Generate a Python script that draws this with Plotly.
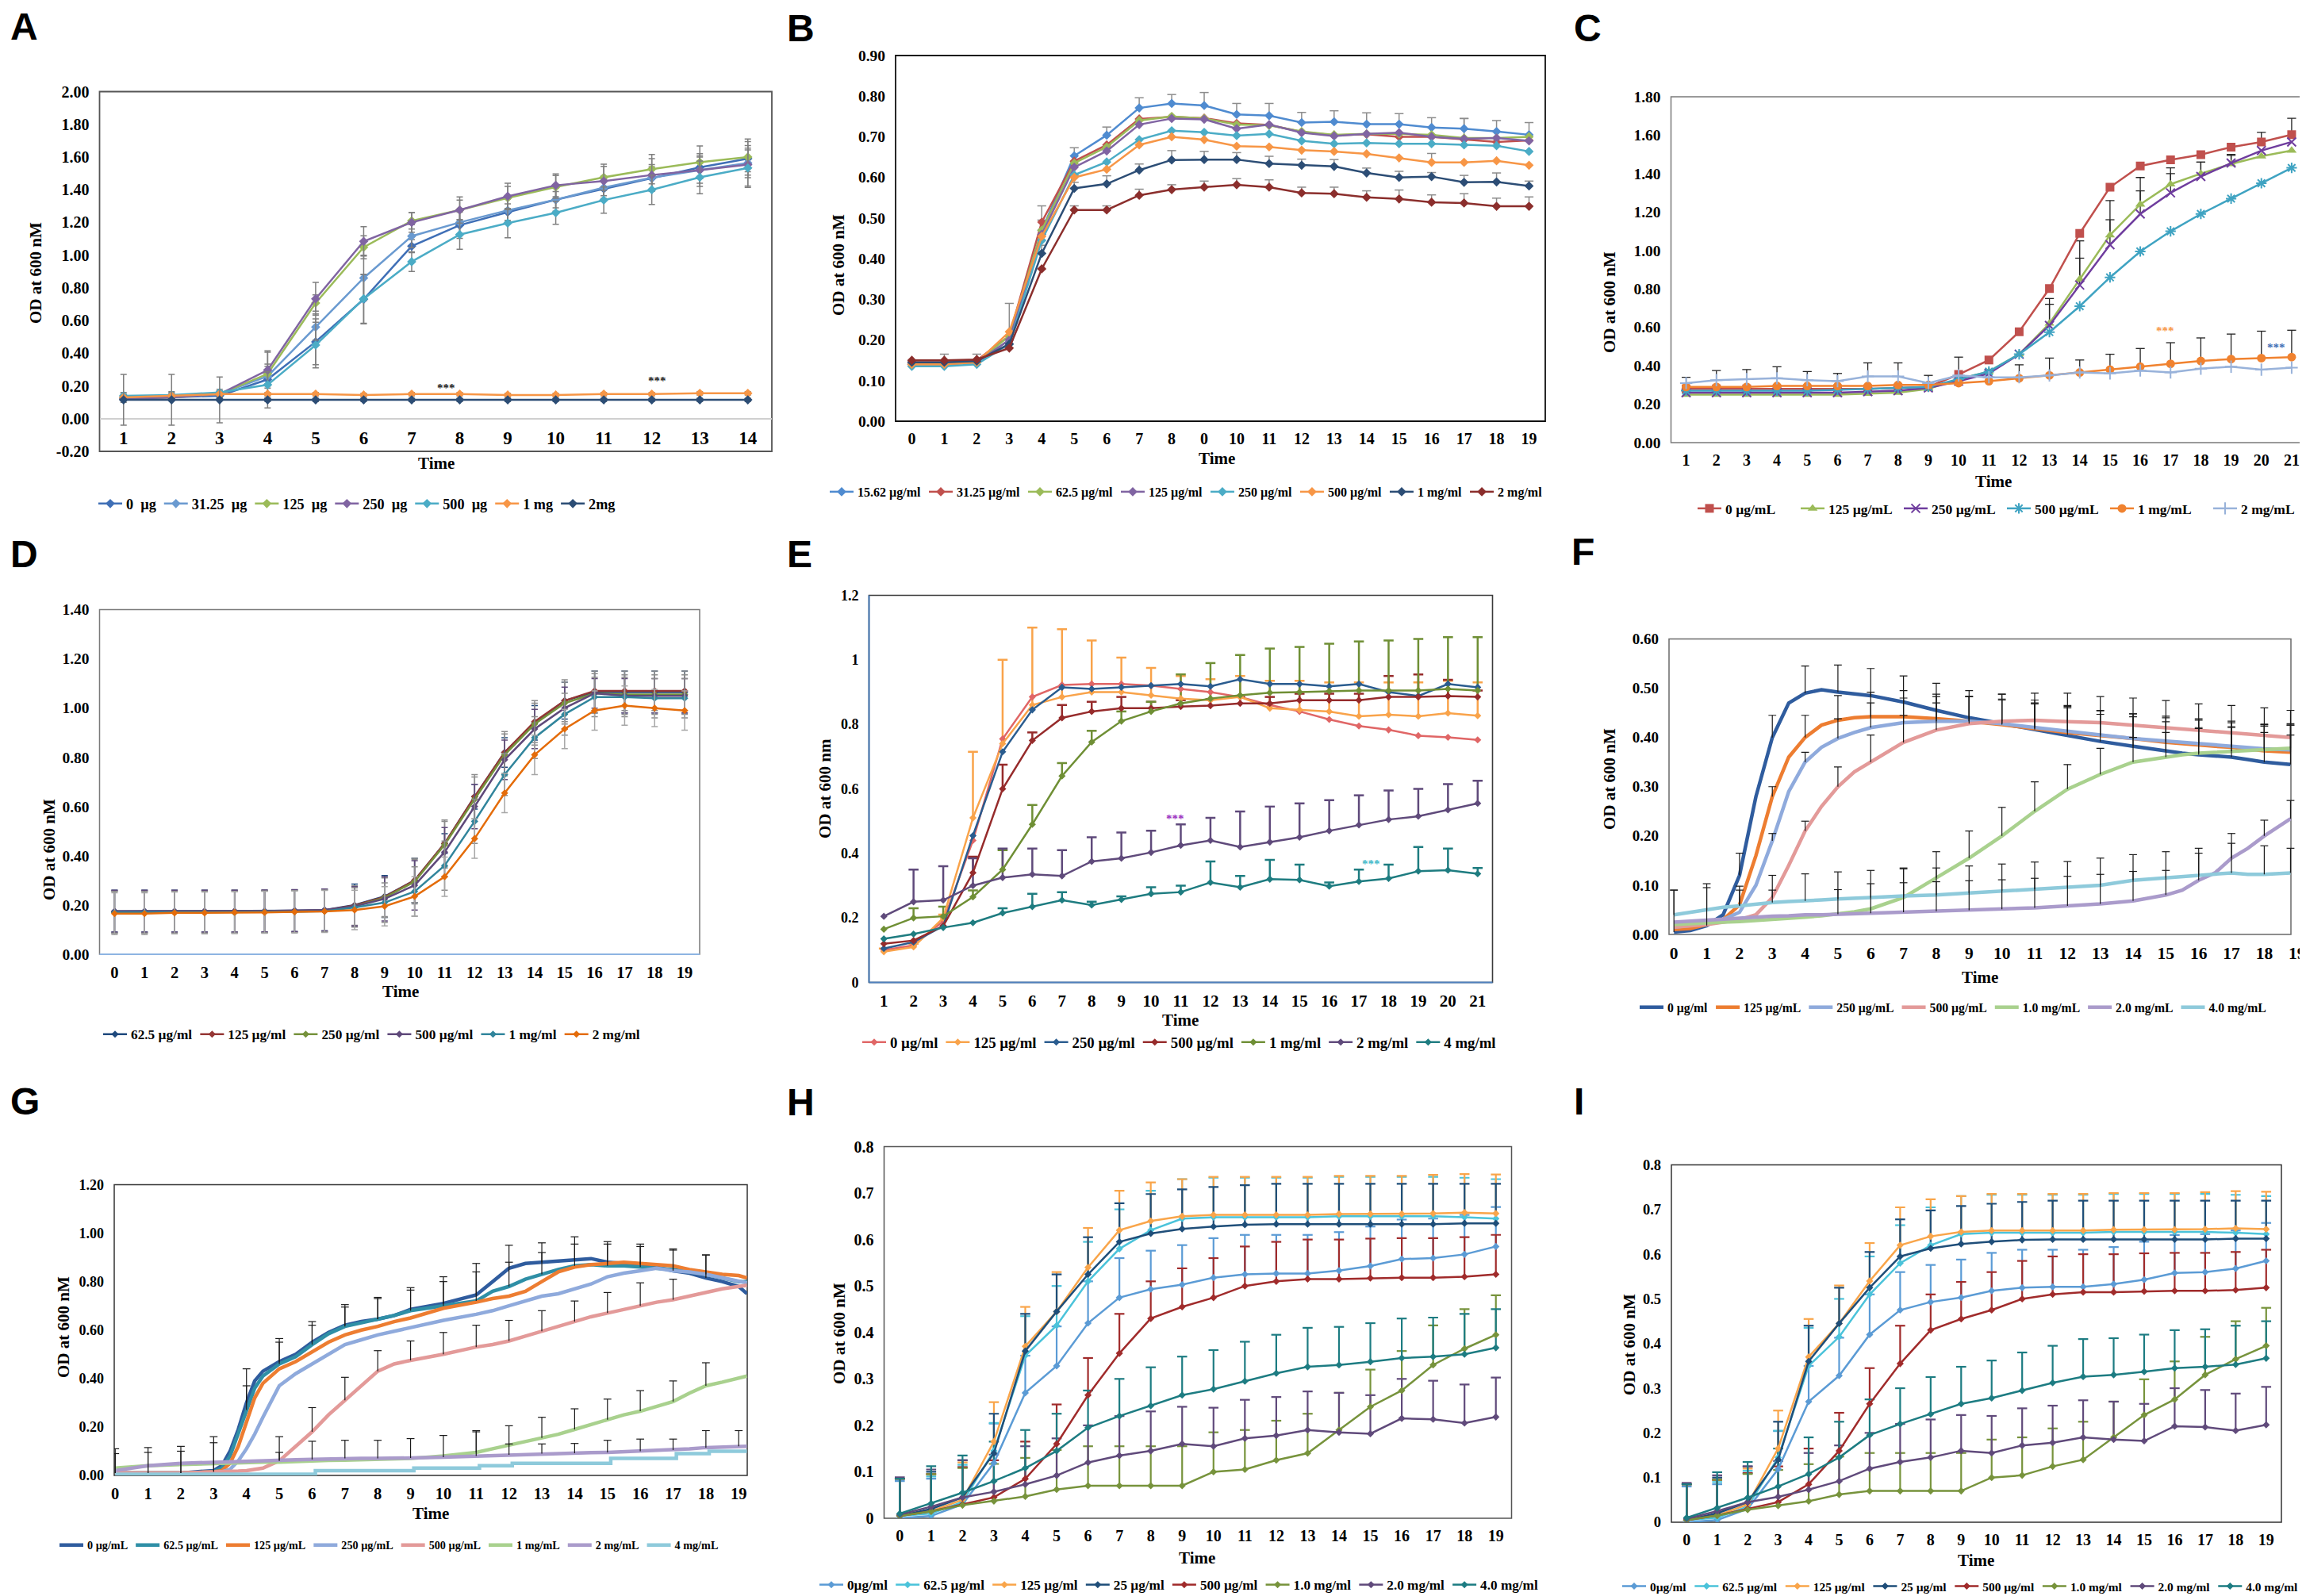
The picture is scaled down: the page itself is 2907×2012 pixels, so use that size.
import plotly.graph_objects as go

W, H = 2907, 2012
SERIF = "Liberation Serif"
SANS = "Liberation Sans"

# ======================= DATA =======================
# ---- Panel A ----
A_T = [1, 2, 3, 4, 5, 6, 7, 8, 9, 10, 11, 12, 13, 14]
A_NAMES = ["0 \u00a0µg", "31.25 \u00a0µg", "125 \u00a0µg", "250 \u00a0µg", "500 \u00a0µg", "1 mg", "2mg"]
A_0UG = [0.12, 0.13, 0.14, 0.24, 0.47, 0.73, 1.055, 1.183, 1.263, 1.339, 1.406, 1.47, 1.537, 1.59]
A_31UG = [0.13, 0.14, 0.15, 0.26, 0.56, 0.86, 1.116, 1.20, 1.274, 1.339, 1.413, 1.474, 1.52, 1.564]
A_125UG = [0.12, 0.13, 0.15, 0.274, 0.707, 1.048, 1.21, 1.276, 1.35, 1.417, 1.476, 1.526, 1.568, 1.60]
A_250UG = [0.12, 0.13, 0.15, 0.297, 0.733, 1.084, 1.20, 1.276, 1.36, 1.427, 1.453, 1.49, 1.52, 1.554]
A_500UG = [0.14, 0.145, 0.16, 0.207, 0.45, 0.733, 0.96, 1.126, 1.196, 1.259, 1.337, 1.40, 1.476, 1.533]
A_1MG = [0.13, 0.14, 0.15, 0.15, 0.15, 0.145, 0.15, 0.15, 0.145, 0.145, 0.15, 0.15, 0.155, 0.155]
A_2MG = [0.115, 0.115, 0.115, 0.115, 0.115, 0.115, 0.115, 0.115, 0.115, 0.115, 0.115, 0.115, 0.115, 0.115]
A_0UG_ERR = [0.02, 0.02, 0.02, 0.175, 0.14, 0.15, 0.04, 0.08, 0.05, 0.05, 0.06, 0.07, 0.07, 0.08]
A_31UG_ERR = [0.02, 0.02, 0.02, 0.06, 0.08, 0.14, 0.07, 0.07, 0.07, 0.07, 0.07, 0.08, 0.08, 0.09]
A_125UG_ERR = [0.01, 0.01, 0.02, 0.06, 0.05, 0.07, 0.05, 0.06, 0.07, 0.07, 0.08, 0.09, 0.10, 0.11]
A_250UG_ERR = [0.01, 0.01, 0.02, 0.11, 0.10, 0.09, 0.06, 0.08, 0.08, 0.07, 0.09, 0.10, 0.10, 0.14]
A_500UG_ERR = [0.02, 0.02, 0.02, 0.08, 0.14, 0.15, 0.06, 0.09, 0.09, 0.07, 0.08, 0.09, 0.10, 0.11]
A_1MG_ERR = [0.01, 0.01, 0.01, 0.01, 0.01, 0.01, 0.01, 0.01, 0.01, 0.01, 0.01, 0.01, 0.01, 0.01]
A_2MG_ERR = [0.155, 0.155, 0.14, 0.01, 0.01, 0.01, 0.01, 0.01, 0.01, 0.01, 0.01, 0.01, 0.01, 0.01]
A_YT = [-0.2, 0.0, 0.2, 0.4, 0.6, 0.8, 1.0, 1.2, 1.4, 1.6, 1.8, 2.0]
A_YLABELS = ["-0.20", "0.00", "0.20", "0.40", "0.60", "0.80", "1.00", "1.20", "1.40", "1.60", "1.80", "2.00"]

# ---- Panel B ----
B_T = list(range(20))
B_XLABELS = ["0", "1", "2", "3", "4", "5", "6", "7", "8", "0", "10", "11", "12", "13", "14", "15", "16", "17", "18", "19"]
B_NAMES = ["15.62 µg/ml", "31.25 µg/ml", "62.5 µg/ml", "125 µg/ml", "250 µg/ml", "500 µg/ml", "1 mg/ml", "2 mg/ml"]
B_15 = [0.141, 0.14, 0.145, 0.20, 0.47, 0.653, 0.704, 0.771, 0.782, 0.777, 0.755, 0.752, 0.735, 0.737, 0.731, 0.731, 0.723, 0.72, 0.713, 0.705]
B_31 = [0.145, 0.145, 0.15, 0.21, 0.49, 0.64, 0.68, 0.744, 0.749, 0.746, 0.733, 0.729, 0.712, 0.704, 0.706, 0.70, 0.70, 0.693, 0.687, 0.691]
B_62 = [0.14, 0.14, 0.145, 0.21, 0.47, 0.635, 0.675, 0.74, 0.75, 0.745, 0.73, 0.728, 0.713, 0.705, 0.707, 0.707, 0.705, 0.697, 0.697, 0.70]
B_125 = [0.14, 0.14, 0.145, 0.20, 0.46, 0.625, 0.665, 0.73, 0.745, 0.743, 0.72, 0.73, 0.71, 0.702, 0.707, 0.71, 0.70, 0.695, 0.697, 0.69]
B_250 = [0.135, 0.135, 0.14, 0.19, 0.445, 0.606, 0.638, 0.693, 0.715, 0.711, 0.703, 0.707, 0.69, 0.683, 0.685, 0.683, 0.683, 0.68, 0.678, 0.664]
B_500 = [0.14, 0.14, 0.145, 0.22, 0.455, 0.60, 0.62, 0.68, 0.70, 0.693, 0.677, 0.675, 0.667, 0.664, 0.658, 0.648, 0.637, 0.637, 0.641, 0.63]
B_1MG = [0.145, 0.145, 0.148, 0.19, 0.413, 0.573, 0.584, 0.618, 0.643, 0.644, 0.644, 0.634, 0.63, 0.627, 0.611, 0.60, 0.602, 0.588, 0.589, 0.579]
B_2MG = [0.15, 0.15, 0.152, 0.18, 0.375, 0.52, 0.52, 0.556, 0.57, 0.576, 0.582, 0.576, 0.562, 0.56, 0.551, 0.547, 0.539, 0.537, 0.529, 0.529]
B_15_EP = [0.005, 0.025, 0.02, 0.09, 0.06, 0.02, 0.02, 0.025, 0.022, 0.032, 0.027, 0.03, 0.025, 0.027, 0.028, 0.026, 0.024, 0.025, 0.027, 0.03]
B_250_EP = [None, None, None, None, 0.05, None, None, None, None, None, None, None, None, None, None, None, None, 0.065, None, None]
B_500_EP = [None, None, None, None, None, None, None, None, None, None, None, None, None, None, None, None, 0.022, None, None, None]
B_1MG_EP = [None, None, None, None, 0.02, 0.015, 0.02, 0.015, 0.023, 0.02, 0.017, 0.018, 0.015, 0.017, 0.012, 0.015, 0.01, 0.017, 0.022, 0.012]
B_2MG_EP = [None, None, None, None, None, 0.01, 0.01, 0.015, 0.012, 0.015, 0.015, 0.018, 0.014, 0.016, 0.016, 0.022, 0.018, 0.023, 0.02, 0.023]
B_YT = [0.0, 0.1, 0.2, 0.3, 0.4, 0.5, 0.6, 0.7, 0.8, 0.9]

# ---- Panel C ----
C_T = list(range(1, 22))
C_NAMES = ["0 µg/mL", "125 µg/mL", "250 µg/mL", "500 µg/mL", "1 mg/mL", "2 mg/mL"]
C_0 = [0.28, 0.28, 0.28, 0.28, 0.28, 0.28, 0.28, 0.285, 0.29, 0.355, 0.43, 0.577, 0.802, 1.089, 1.329, 1.44, 1.472, 1.499, 1.538, 1.565, 1.603]
C_125 = [0.25, 0.25, 0.25, 0.25, 0.25, 0.25, 0.255, 0.26, 0.28, 0.33, 0.37, 0.46, 0.62, 0.85, 1.08, 1.24, 1.345, 1.40, 1.45, 1.49, 1.52]
C_250 = [0.26, 0.26, 0.26, 0.26, 0.26, 0.26, 0.265, 0.27, 0.285, 0.32, 0.36, 0.46, 0.61, 0.82, 1.03, 1.19, 1.30, 1.385, 1.455, 1.52, 1.565]
C_500 = [0.27, 0.27, 0.27, 0.27, 0.27, 0.275, 0.28, 0.285, 0.29, 0.33, 0.37, 0.46, 0.575, 0.71, 0.86, 0.995, 1.10, 1.19, 1.27, 1.35, 1.43]
C_1MG = [0.29, 0.29, 0.29, 0.295, 0.295, 0.295, 0.295, 0.30, 0.30, 0.31, 0.32, 0.335, 0.35, 0.365, 0.38, 0.395, 0.41, 0.425, 0.435, 0.44, 0.445]
C_2MG = [0.31, 0.325, 0.33, 0.335, 0.325, 0.32, 0.345, 0.345, 0.31, 0.35, 0.34, 0.34, 0.35, 0.365, 0.36, 0.375, 0.365, 0.385, 0.395, 0.38, 0.39]
C_0_EP = [None, None, None, None, None, None, None, None, None, 0.09, None, None, None, None, None, None, None, None, None, 0.05, 0.085]
C_125_EP = [None, None, None, None, None, None, None, None, None, None, None, None, 0.1, 0.2, 0.18, 0.14, 0.085, 0.06, 0.05, None, None]
C_250_EP = [None, None, None, None, None, None, None, None, None, None, None, None, 0.14, 0.14, 0.13, 0.12, 0.10, 0.075, 0.04, None, None]
C_1MG_EP = [None, None, None, None, None, None, None, None, None, None, None, 0.07, 0.09, 0.065, 0.08, 0.095, 0.11, 0.12, 0.13, 0.14, 0.14]
C_2MG_EP = [0.03, 0.05, 0.05, 0.06, 0.045, 0.04, 0.07, 0.07, 0.04, None, None, None, None, None, None, None, None, None, None, None, None]
C_YT = [0.0, 0.2, 0.4, 0.6, 0.8, 1.0, 1.2, 1.4, 1.6, 1.8]

# ---- Panel D ----
D_T = list(range(20))
D_NAMES = ["62.5 µg/ml", "125 µg/ml", "250 µg/ml", "500 µg/ml", "1 mg/ml", "2 mg/ml"]
D_62 = [0.175, 0.175, 0.175, 0.175, 0.175, 0.175, 0.177, 0.18, 0.20, 0.235, 0.30, 0.45, 0.64, 0.82, 0.94, 1.03, 1.065, 1.065, 1.065, 1.065]
D_125 = [0.172, 0.172, 0.173, 0.174, 0.175, 0.175, 0.176, 0.178, 0.198, 0.233, 0.30, 0.45, 0.64, 0.82, 0.945, 1.03, 1.07, 1.07, 1.07, 1.07]
D_250 = [0.17, 0.17, 0.17, 0.17, 0.17, 0.172, 0.174, 0.176, 0.195, 0.23, 0.295, 0.445, 0.63, 0.81, 0.935, 1.02, 1.06, 1.055, 1.055, 1.055]
D_500 = [0.175, 0.175, 0.175, 0.175, 0.175, 0.176, 0.178, 0.18, 0.195, 0.225, 0.28, 0.415, 0.60, 0.79, 0.915, 1.00, 1.06, 1.05, 1.05, 1.05]
D_1MG = [0.17, 0.17, 0.17, 0.17, 0.17, 0.172, 0.173, 0.175, 0.19, 0.21, 0.255, 0.36, 0.54, 0.73, 0.88, 0.975, 1.045, 1.045, 1.04, 1.04]
D_2MG = [0.165, 0.165, 0.168, 0.168, 0.17, 0.17, 0.172, 0.174, 0.18, 0.195, 0.235, 0.315, 0.47, 0.655, 0.81, 0.915, 0.99, 1.01, 1.00, 0.99]
D_62_ERR = [0.085, 0.085, 0.085, 0.085, 0.085, 0.085, 0.085, 0.085, 0.085, 0.085, 0.09, 0.04, 0.05, 0.06, 0.07, 0.075, 0.085, 0.085, 0.085, 0.085]
D_125_ERR = [0.085, 0.085, 0.085, 0.085, 0.085, 0.085, 0.085, 0.085, 0.08, 0.08, 0.09, 0.095, 0.09, 0.085, 0.085, 0.085, 0.08, 0.08, 0.08, 0.08]
D_250_ERR = [0.085, 0.085, 0.085, 0.085, 0.085, 0.085, 0.085, 0.085, 0.08, 0.08, 0.09, 0.095, 0.09, 0.085, 0.085, 0.085, 0.08, 0.08, 0.08, 0.08]
D_500_ERR = [0.085, 0.085, 0.085, 0.085, 0.085, 0.085, 0.085, 0.085, 0.08, 0.09, 0.1, 0.1, 0.09, 0.08, 0.08, 0.085, 0.06, 0.07, 0.07, 0.07]
D_1MG_ERR = [0.085, 0.085, 0.085, 0.085, 0.085, 0.085, 0.085, 0.085, 0.08, 0.08, 0.1, 0.1, 0.09, 0.085, 0.085, 0.085, 0.08, 0.08, 0.08, 0.08]
D_2MG_ERR = [0.085, 0.085, 0.085, 0.085, 0.085, 0.085, 0.085, 0.085, 0.08, 0.08, 0.08, 0.08, 0.08, 0.08, 0.08, 0.08, 0.08, 0.08, 0.075, 0.08]
D_YT = [0.0, 0.2, 0.4, 0.6, 0.8, 1.0, 1.2, 1.4]

# ---- Panel E ----
E_T = list(range(1, 22))
E_NAMES = ["0 µg/ml", "125 µg/ml", "250 µg/ml", "500 µg/ml", "1 mg/ml", "2 mg/ml", "4 mg/ml"]
E_0 = [0.10, 0.115, 0.19, 0.44, 0.755, 0.885, 0.922, 0.925, 0.925, 0.92, 0.91, 0.90, 0.885, 0.86, 0.84, 0.815, 0.795, 0.783, 0.765, 0.76, 0.752]
E_125 = [0.095, 0.11, 0.20, 0.51, 0.74, 0.86, 0.885, 0.90, 0.90, 0.89, 0.88, 0.875, 0.885, 0.85, 0.845, 0.84, 0.825, 0.83, 0.825, 0.835, 0.827]
E_250 = [0.105, 0.125, 0.175, 0.455, 0.715, 0.845, 0.915, 0.91, 0.915, 0.92, 0.925, 0.918, 0.94, 0.925, 0.925, 0.918, 0.925, 0.90, 0.888, 0.925, 0.915]
E_500 = [0.12, 0.13, 0.175, 0.34, 0.60, 0.75, 0.82, 0.84, 0.85, 0.85, 0.855, 0.858, 0.865, 0.865, 0.875, 0.875, 0.875, 0.885, 0.885, 0.888, 0.885]
E_1MG = [0.165, 0.20, 0.205, 0.265, 0.35, 0.49, 0.64, 0.745, 0.81, 0.84, 0.865, 0.88, 0.89, 0.898, 0.90, 0.903, 0.905, 0.905, 0.905, 0.91, 0.905]
E_2MG = [0.205, 0.25, 0.255, 0.30, 0.325, 0.335, 0.33, 0.375, 0.385, 0.403, 0.425, 0.44, 0.42, 0.435, 0.45, 0.47, 0.488, 0.505, 0.515, 0.535, 0.555]
E_4MG = [0.135, 0.15, 0.17, 0.185, 0.215, 0.235, 0.255, 0.24, 0.257, 0.275, 0.28, 0.31, 0.295, 0.32, 0.318, 0.298, 0.313, 0.322, 0.345, 0.348, 0.337]
E_125_EP = [0.01, 0.01, 0.01, 0.205, 0.26, 0.24, 0.21, 0.16, 0.107, 0.085, 0.07, 0.065, 0.065, 0.085, 0.09, 0.09, 0.105, 0.10, 0.105, 0.10, 0.103]
E_500_EP = [None, None, None, 0.05, 0.075, 0.025, 0.04, 0.03, 0.035, 0.02, 0.02, 0.02, 0.02, 0.02, 0.02, 0.02, 0.02, 0.065, 0.07, 0.05, 0.02]
E_1MG_EP = [None, 0.03, 0.03, 0.02, 0.06, 0.06, 0.04, 0.035, 0.03, 0.03, 0.09, 0.11, 0.125, 0.137, 0.14, 0.147, 0.152, 0.155, 0.16, 0.16, 0.165]
E_2MG_EP = [None, 0.10, 0.105, 0.085, 0.09, 0.08, 0.08, 0.075, 0.08, 0.067, 0.065, 0.07, 0.11, 0.11, 0.105, 0.095, 0.092, 0.09, 0.085, 0.08, 0.07]
E_4MG_EP = [None, None, None, None, 0.015, 0.04, 0.025, 0.01, 0.01, 0.02, 0.02, 0.065, 0.035, 0.06, 0.047, 0.012, 0.037, 0.043, 0.075, 0.067, 0.018]
E_YT = [0.0, 0.2, 0.4, 0.6, 0.8, 1.0, 1.2]
E_YLABELS = ["0", "0.2", "0.4", "0.6", "0.8", "1", "1.2"]

# ---- Panel F ----
F_T = [0, 0.5, 1, 1.5, 2, 2.5, 3, 3.5, 4, 4.5, 5, 5.5, 6, 7, 8, 9, 10, 11, 12, 13, 14, 15, 15.5, 16, 16.5, 17, 17.5, 18, 18.8]
F_NAMES = ["0 µg/ml", "125 µg/mL", "250 µg/mL", "500 µg/mL", "1.0 mg/mL", "2.0 mg/mL", "4.0 mg/mL"]
F_0 = [0.005, 0.008, 0.018, 0.04, 0.12, 0.28, 0.40, 0.47, 0.49, 0.497, 0.492, 0.488, 0.485, 0.472, 0.455, 0.44, 0.428, 0.416, 0.405, 0.392, 0.382, 0.372, 0.368, 0.365, 0.362, 0.36, 0.355, 0.35, 0.345]
F_125 = [0.01, 0.012, 0.02, 0.03, 0.06, 0.16, 0.28, 0.36, 0.40, 0.425, 0.435, 0.44, 0.442, 0.442, 0.438, 0.433, 0.426, 0.418, 0.41, 0.404, 0.398, 0.39, 0.387, 0.385, 0.382, 0.38, 0.376, 0.373, 0.37]
F_250 = [0.015, 0.018, 0.025, 0.03, 0.045, 0.10, 0.19, 0.29, 0.35, 0.38, 0.398, 0.41, 0.42, 0.43, 0.433, 0.433, 0.428, 0.42, 0.413, 0.405, 0.398, 0.393, 0.39, 0.388, 0.385, 0.383, 0.38, 0.377, 0.375]
F_500 = [0.015, 0.017, 0.02, 0.025, 0.03, 0.04, 0.075, 0.14, 0.21, 0.26, 0.30, 0.33, 0.35, 0.39, 0.415, 0.428, 0.433, 0.435, 0.432, 0.43, 0.425, 0.42, 0.418, 0.415, 0.413, 0.41, 0.407, 0.405, 0.40]
F_1MG = [0.02, 0.022, 0.024, 0.025, 0.026, 0.028, 0.03, 0.032, 0.035, 0.038, 0.042, 0.046, 0.052, 0.075, 0.115, 0.155, 0.20, 0.25, 0.295, 0.325, 0.35, 0.36, 0.365, 0.368, 0.37, 0.372, 0.374, 0.376, 0.378]
F_2MG = [0.025, 0.027, 0.03, 0.032, 0.033, 0.035, 0.037, 0.038, 0.04, 0.04, 0.041, 0.042, 0.043, 0.045, 0.047, 0.049, 0.051, 0.054, 0.058, 0.062, 0.068, 0.08, 0.09, 0.11, 0.125, 0.155, 0.175, 0.20, 0.235]
F_4MG = [0.04, 0.045, 0.05, 0.055, 0.058, 0.062, 0.065, 0.067, 0.068, 0.07, 0.072, 0.073, 0.075, 0.078, 0.08, 0.084, 0.088, 0.092, 0.095, 0.10, 0.11, 0.115, 0.117, 0.12, 0.122, 0.125, 0.122, 0.122, 0.125]
F_ET = [0, 1, 2, 3, 4, 5, 6, 7, 8, 9, 10, 11, 12, 13, 14, 15, 16, 17, 18, 18.8]
F_0_EP = [0.085, 0.085, 0.045, 0.045, 0.055, 0.055, 0.055, 0.053, 0.055, 0.055, 0.06, 0.06, 0.06, 0.055, 0.06, 0.06, 0.055, 0.06, 0.06, 0.06]
F_125_EP = [None, None, 0.03, 0.02, 0.045, 0.05, 0.05, 0.053, 0.05, 0.05, 0.05, 0.05, 0.05, 0.05, 0.05, 0.05, 0.05, 0.05, 0.05, 0.055]
F_250_EP = [None, None, None, 0.015, 0.02, 0.04, 0.05, 0.05, 0.05, 0.05, 0.05, 0.05, 0.05, 0.05, 0.05, 0.05, 0.05, 0.05, 0.05, 0.05]
F_500_EP = [None, None, None, 0.015, 0.02, 0.04, 0.055, 0.055, 0.055, 0.055, 0.055, 0.055, 0.058, 0.053, 0.055, 0.055, 0.053, 0.055, 0.055, 0.055]
F_1MG_EP = [None, None, None, None, None, None, None, 0.06, 0.053, 0.055, 0.058, 0.06, 0.05, 0.053, 0.05, 0.05, 0.05, 0.05, 0.05, 0.05]
F_2MG_EP = [None, None, None, None, None, 0.05, 0.06, 0.06, 0.06, 0.06, 0.06, 0.06, 0.06, 0.06, 0.06, 0.05, 0.055, 0.05, 0.032, 0.037]
F_4MG_EP = [0.05, 0.045, 0.04, 0.055, 0.055, 0.055, 0.055, 0.055, 0.055, 0.055, 0.055, 0.055, 0.053, 0.055, 0.052, 0.053, 0.055, 0.06, 0.058, 0.05]
F_XT = list(range(20))
F_YT = [0.0, 0.1, 0.2, 0.3, 0.4, 0.5, 0.6]

# ---- Panel G ----
G_T = [0, 1, 2, 3, 3.25, 3.5, 3.75, 4, 4.25, 4.5, 5, 5.5, 6, 6.5, 7, 7.5, 8, 8.5, 9, 10, 11, 11.5, 12, 12.5, 13, 13.5, 14, 14.5, 15, 15.5, 16, 16.5, 17, 17.5, 18, 18.5, 19, 19.25]
G_NAMES = ["0 µg/mL", "62.5 µg/mL", "125 µg/mL", "250 µg/mL", "500 µg/mL", "1 mg/mL", "2 mg/mL", "4 mg/mL"]
G_0 = [0.01, 0.01, 0.01, 0.02, 0.04, 0.10, 0.19, 0.30, 0.39, 0.43, 0.47, 0.50, 0.55, 0.59, 0.62, 0.635, 0.645, 0.66, 0.685, 0.71, 0.745, 0.80, 0.855, 0.875, 0.88, 0.885, 0.89, 0.895, 0.88, 0.875, 0.87, 0.86, 0.845, 0.835, 0.815, 0.80, 0.78, 0.75]
G_62 = [0.01, 0.01, 0.01, 0.015, 0.03, 0.08, 0.17, 0.27, 0.36, 0.41, 0.46, 0.49, 0.54, 0.585, 0.615, 0.63, 0.645, 0.66, 0.68, 0.70, 0.72, 0.76, 0.78, 0.81, 0.83, 0.85, 0.865, 0.87, 0.865, 0.865, 0.86, 0.855, 0.85, 0.84, 0.83, 0.815, 0.80, 0.80]
G_125 = [0.01, 0.01, 0.01, 0.015, 0.02, 0.05, 0.12, 0.22, 0.32, 0.38, 0.44, 0.47, 0.51, 0.55, 0.58, 0.60, 0.615, 0.635, 0.65, 0.69, 0.715, 0.73, 0.74, 0.76, 0.80, 0.84, 0.86, 0.87, 0.875, 0.88, 0.875, 0.87, 0.865, 0.85, 0.84, 0.83, 0.825, 0.815]
G_250 = [0.01, 0.01, 0.01, 0.01, 0.015, 0.025, 0.06, 0.11, 0.17, 0.24, 0.37, 0.42, 0.46, 0.50, 0.54, 0.56, 0.58, 0.595, 0.61, 0.64, 0.665, 0.68, 0.70, 0.72, 0.74, 0.75, 0.77, 0.79, 0.82, 0.835, 0.845, 0.855, 0.845, 0.84, 0.83, 0.815, 0.80, 0.795]
G_500 = [0.01, 0.01, 0.01, 0.015, 0.015, 0.015, 0.018, 0.02, 0.025, 0.03, 0.06, 0.12, 0.18, 0.25, 0.31, 0.37, 0.43, 0.46, 0.475, 0.50, 0.53, 0.54, 0.555, 0.575, 0.595, 0.615, 0.635, 0.655, 0.67, 0.685, 0.70, 0.715, 0.725, 0.74, 0.755, 0.77, 0.78, 0.785]
G_1MG = [0.03, 0.04, 0.045, 0.05, 0.05, 0.052, 0.053, 0.055, 0.055, 0.055, 0.055, 0.058, 0.06, 0.062, 0.063, 0.065, 0.066, 0.068, 0.07, 0.08, 0.095, 0.11, 0.125, 0.14, 0.155, 0.17, 0.19, 0.21, 0.23, 0.25, 0.265, 0.285, 0.305, 0.34, 0.37, 0.385, 0.40, 0.41]
G_2MG = [0.02, 0.04, 0.05, 0.055, 0.056, 0.057, 0.058, 0.06, 0.06, 0.062, 0.065, 0.065, 0.066, 0.068, 0.07, 0.07, 0.07, 0.07, 0.072, 0.075, 0.08, 0.082, 0.085, 0.087, 0.09, 0.09, 0.092, 0.094, 0.095, 0.098, 0.10, 0.103, 0.105, 0.11, 0.115, 0.118, 0.12, 0.12]
G_4MG_T = [0, 6.1, 9.1, 11.1, 12.1, 15.1, 17.1, 18.1, 19.25]
G_4MG = [0.005, 0.02, 0.03, 0.04, 0.05, 0.07, 0.09, 0.10, 0.10]
G_ET = list(range(20))
G_0_EP = [0.10, 0.105, 0.11, 0.14, 0.14, 0.095, 0.085, 0.085, 0.09, 0.09, 0.11, 0.13, 0.095, 0.08, 0.095, 0.085, 0.085, 0.09, 0.095, None]
G_62_EP = [0.08, 0.085, 0.09, 0.12, 0.10, 0.09, 0.08, 0.08, 0.085, 0.085, 0.1, 0.12, 0.1, 0.09, 0.09, 0.09, 0.085, 0.08, 0.08, None]
G_500_EP = [None, None, None, None, None, 0.10, 0.10, 0.095, 0.085, 0.08, 0.09, 0.09, 0.085, 0.085, 0.085, 0.085, 0.095, 0.085, None, None]
G_1MG_EP = [None, None, None, None, None, None, None, None, None, None, None, 0.09, 0.08, 0.085, 0.085, 0.085, 0.085, 0.085, 0.095, None]
G_2MG_EP = [None, None, None, None, None, 0.03, 0.075, 0.075, 0.075, 0.08, 0.09, 0.10, 0.045, 0.04, 0.04, 0.05, 0.05, 0.045, 0.07, 0.065]
G_XT = list(range(20))
G_YT = [0.0, 0.2, 0.4, 0.6, 0.8, 1.0, 1.2]

# ---- Panels H and I (same data) ----
H_T = list(range(20))
H_NAMES = ["0µg/ml", "62.5 µg/ml", "125 µg/ml", "25 µg/ml", "500 µg/ml", "1.0 mg/ml", "2.0 mg/ml", "4.0 mg/ml"]
H_0 = [0.0, 0.005, 0.03, 0.119, 0.27, 0.328, 0.42, 0.475, 0.493, 0.503, 0.518, 0.525, 0.527, 0.527, 0.533, 0.543, 0.558, 0.56, 0.568, 0.585]
H_62 = [0.005, 0.01, 0.035, 0.145, 0.35, 0.415, 0.51, 0.58, 0.62, 0.645, 0.648, 0.648, 0.648, 0.648, 0.65, 0.65, 0.65, 0.65, 0.648, 0.645]
H_125 = [0.005, 0.015, 0.04, 0.165, 0.37, 0.445, 0.54, 0.62, 0.64, 0.65, 0.653, 0.653, 0.653, 0.653, 0.655, 0.655, 0.655, 0.656, 0.658, 0.656]
H_25 = [0.005, 0.02, 0.045, 0.14, 0.36, 0.445, 0.525, 0.595, 0.613, 0.623, 0.628, 0.632, 0.633, 0.633, 0.633, 0.633, 0.633, 0.633, 0.635, 0.635]
H_500 = [0.005, 0.015, 0.03, 0.045, 0.085, 0.16, 0.265, 0.355, 0.43, 0.455, 0.475, 0.50, 0.51, 0.515, 0.515, 0.517, 0.518, 0.518, 0.52, 0.525]
H_1MG = [0.005, 0.015, 0.028, 0.037, 0.047, 0.062, 0.07, 0.07, 0.07, 0.07, 0.10, 0.105, 0.125, 0.14, 0.19, 0.24, 0.275, 0.33, 0.365, 0.395]
H_2MG = [0.008, 0.025, 0.045, 0.057, 0.073, 0.092, 0.12, 0.135, 0.145, 0.16, 0.155, 0.172, 0.178, 0.19, 0.185, 0.182, 0.215, 0.213, 0.205, 0.218]
H_4MG = [0.01, 0.032, 0.055, 0.08, 0.108, 0.145, 0.195, 0.22, 0.242, 0.265, 0.278, 0.295, 0.312, 0.326, 0.33, 0.337, 0.345, 0.348, 0.353, 0.367]
H_0_EP = [0.08, 0.08, 0.08, 0.085, 0.08, 0.085, 0.09, 0.085, 0.083, 0.085, 0.085, 0.085, 0.083, 0.083, 0.083, 0.085, 0.085, 0.085, 0.085, 0.085]
H_62_EP = [0.08, 0.08, 0.08, 0.06, 0.085, 0.085, 0.085, 0.085, 0.085, 0.085, 0.085, 0.085, 0.085, 0.085, 0.085, 0.085, 0.085, 0.085, 0.085, 0.085]
H_125_EP = [0.08, 0.08, 0.08, 0.085, 0.085, 0.085, 0.085, 0.085, 0.083, 0.08, 0.082, 0.082, 0.082, 0.082, 0.082, 0.082, 0.082, 0.083, 0.083, 0.084]
H_25_EP = [0.08, 0.08, 0.08, 0.085, 0.08, 0.08, 0.08, 0.083, 0.085, 0.085, 0.085, 0.085, 0.087, 0.087, 0.087, 0.087, 0.087, 0.087, 0.085, 0.085]
H_500_EP = [0.08, 0.08, 0.08, 0.08, 0.08, 0.085, 0.08, 0.085, 0.08, 0.083, 0.085, 0.085, 0.085, 0.085, 0.085, 0.085, 0.085, 0.085, 0.085, 0.085]
H_1MG_EP = [0.08, 0.08, 0.08, 0.08, 0.083, 0.085, 0.085, 0.085, 0.085, 0.085, 0.085, 0.085, 0.085, 0.085, 0.08, 0.08, 0.085, 0.085, 0.085, 0.085]
H_2MG_EP = [0.08, 0.08, 0.08, 0.08, 0.082, 0.08, 0.08, 0.085, 0.085, 0.08, 0.083, 0.083, 0.083, 0.083, 0.085, 0.083, 0.085, 0.083, 0.083, 0.085]
H_4MG_EP = [0.075, 0.08, 0.08, 0.085, 0.082, 0.08, 0.08, 0.08, 0.083, 0.083, 0.084, 0.085, 0.083, 0.084, 0.082, 0.083, 0.085, 0.084, 0.087, 0.083]
H_YT = [0.0, 0.1, 0.2, 0.3, 0.4, 0.5, 0.6, 0.7, 0.8]
H_YLABELS = ["0", "0.1", "0.2", "0.3", "0.4", "0.5", "0.6", "0.7", "0.8"]

# ======================= LAYOUT (pixels) =======================
BOX = {1: (117.5, 107.5, 965, 561), 2: (1121, 62, 1940, 523), 3: (2098.5, 114, 2900, 550),
       4: (117.5, 760.5, 874, 1195), 5: (1087.5, 742.5, 1873.5, 1230.5), 6: (2096, 797.5, 2896, 1170),
       7: (136, 1485.5, 934, 1852), 8: (1106.5, 1437.5, 1897.5, 1906), 9: (2099, 1460.5, 2868, 1911)}
YTITLE = {1: (37, 336), 2: (1049, 326), 3: (2021, 373), 4: (54, 1063), 5: (1032, 986), 6: (2021, 974),
          7: (72, 1665), 8: (1050, 1673), 9: (2046, 1687)}
TIME = {1: (542, 576), 2: (1526, 570), 3: (2505, 599), 4: (497, 1242), 5: (1480, 1278), 6: (2488, 1224),
        7: (535, 1900), 8: (1501, 1956), 9: (2483, 1959)}
LETTER = {1: (3, 26, "A"), 2: (982, 28, "B"), 3: (1974, 28, "C"), 4: (3, 690, "D"), 5: (982, 690, "E"),
          6: (1971, 688, "F"), 7: (3, 1380, "G"), 8: (982, 1381, "H"), 9: (1974, 1380, "I")}
# legend: (x of first symbol centre, or right edge for panel C, y centre)
LEG = {1: (133, 627), 2: (1055, 612), 3: (2907, 633), 4: (139, 1296), 5: (1096, 1306), 6: (2076, 1262),
       7: (84, 1940), 8: (1042, 1990), 9: (2054, 1992)}
LEGFONT = {1: 18.2, 2: 16, 3: 17.5, 4: 17.3, 5: 18.8, 6: 15.7, 7: 14.2, 8: 17.2, 9: 15.4}
LEGENTRY = {3: 85}
XFONT = {1: 23, 2: 20, 3: 20, 4: 20.5, 5: 21, 6: 21.5, 7: 20.5, 8: 20, 9: 20}
YFONT = {1: 20, 2: 19.5, 3: 19.5, 4: 19.5, 5: 18, 6: 19, 7: 18, 8: 20, 9: 18.5}

fig = go.Figure()


def sfx(k):
    return "" if k == 1 else str(k)


def series(k, x, y, name, color, width=2.5, symbol="diamond", msize=8, mode="lines+markers",
           err=None, errcolor="#808080", shape="linear", mline=0):
    s = sfx(k)
    tr = go.Scatter(x=x, y=y, name=name, mode=mode, xaxis="x" + s, yaxis="y" + s, legend="legend" + s,
                    line=dict(color=color, width=width, shape=shape),
                    marker=dict(symbol=symbol, size=msize, color=color, line=dict(width=mline, color=color)),
                    hoverinfo="skip")
    if err is not None:
        tr.error_y = dict(type="data", array=err, symmetric=True, color=errcolor, thickness=1.5, width=4)
    fig.add_trace(tr)


def plus_err(k, x, y, plus, color, thickness=1.5, cap=9):
    s = sfx(k)
    xs, ys, cx, cy = [], [], [], []
    for xi, yi, e in zip(x, y, plus):
        if e is None:
            continue
        xs += [xi, xi, None]
        ys += [yi, yi + e, None]
        cx.append(xi)
        cy.append(yi + e)
    fig.add_trace(go.Scatter(x=xs, y=ys, mode="lines", line=dict(color=color, width=thickness),
                             xaxis="x" + s, yaxis="y" + s, showlegend=False, hoverinfo="skip"))
    fig.add_trace(go.Scatter(x=cx, y=cy, mode="markers", xaxis="x" + s, yaxis="y" + s, showlegend=False,
                             hoverinfo="skip",
                             marker=dict(symbol="line-ew", size=cap, color=color, line=dict(width=thickness, color=color))))


def at(times, vals, sel):
    lut = dict(zip(times, vals))
    return [lut[t] for t in sel]


# ---------- A ----------
A_COL = ["#3F6FB6", "#6A9AD0", "#9BBB59", "#8064A2", "#4BACC6", "#F79646", "#2C4D75"]
for y, e, n, c in zip([A_0UG, A_31UG, A_125UG, A_250UG, A_500UG, A_1MG, A_2MG],
                      [A_0UG_ERR, A_31UG_ERR, A_125UG_ERR, A_250UG_ERR, A_500UG_ERR, A_1MG_ERR, A_2MG_ERR],
                      A_NAMES, A_COL):
    series(1, A_T, y, n, c, width=2.5, symbol="diamond", msize=9, err=e, errcolor="#7F7F7F")

# ---------- B ----------
B_COL = ["#4F8BD0", "#C0504D", "#9BBB59", "#8064A2", "#4BACC6", "#F79646", "#2C4D75", "#8B2E2C"]
for y, ep in zip([B_15, B_250, B_500, B_1MG, B_2MG], [B_15_EP, B_250_EP, B_500_EP, B_1MG_EP, B_2MG_EP]):
    plus_err(2, B_T, y, ep, "#8C8C8C", thickness=1.5, cap=8)
for y, n, c in zip([B_15, B_31, B_62, B_125, B_250, B_500, B_1MG, B_2MG], B_NAMES, B_COL):
    series(2, B_T, y, n, c, width=2.5, symbol="diamond", msize=9)

# ---------- C ----------
C_COL = ["#C0504D", "#9BBB59", "#6F3D9E", "#3FA3C2", "#F0822F", "#98B2DA"]
C_SYM = ["square", "triangle-up", "x-thin", "asterisk", "circle", "cross-thin"]
C_MLINE = [0, 0, 2, 2, 0, 2]
for y, ep in zip([C_0, C_125, C_250, C_1MG, C_2MG], [C_0_EP, C_125_EP, C_250_EP, C_1MG_EP, C_2MG_EP]):
    plus_err(3, C_T, y, ep, "#222222", thickness=1.3, cap=8)
for y, n, c, sm, ml in zip([C_0, C_125, C_250, C_500, C_1MG, C_2MG], C_NAMES, C_COL, C_SYM, C_MLINE):
    series(3, C_T, y, n, c, width=2.5, symbol=sm, msize=11, mline=ml)

# ---------- D ----------
D_COL = ["#1F497D", "#953735", "#76923C", "#5F497A", "#31859C", "#E46C0A"]
D_ECOL = ["#1F497D", "#8C8C8C", "#8C8C8C", "#5F497A", "#8C8C8C", "#A6A6A6"]
for y, e, n, c, ec in zip([D_62, D_125, D_250, D_500, D_1MG, D_2MG],
                          [D_62_ERR, D_125_ERR, D_250_ERR, D_500_ERR, D_1MG_ERR, D_2MG_ERR],
                          D_NAMES, D_COL, D_ECOL):
    series(4, D_T, y, n, c, width=2.5, symbol="diamond", msize=7, err=e, errcolor=ec)

# ---------- E ----------
E_COL = ["#E06666", "#F9A34A", "#2A5C8F", "#962B2B", "#6F8F35", "#5F4A7B", "#1E7C80"]
for y, ep, c in zip([E_125, E_500, E_1MG, E_2MG, E_4MG],
                    [E_125_EP, E_500_EP, E_1MG_EP, E_2MG_EP, E_4MG_EP],
                    [E_COL[1], E_COL[3], E_COL[4], E_COL[5], E_COL[6]]):
    plus_err(5, E_T, y, ep, c, thickness=2.5, cap=9)
for y, n, c in zip([E_0, E_125, E_250, E_500, E_1MG, E_2MG, E_4MG], E_NAMES, E_COL):
    series(5, E_T, y, n, c, width=2.5, symbol="diamond", msize=7)

# ---------- F ----------
F_COL = ["#2F5C9E", "#ED7D31", "#8FAADC", "#E39A99", "#A9D18E", "#AA9BCB", "#8ECADB"]
F_SER = [F_0, F_125, F_250, F_500, F_1MG, F_2MG, F_4MG]
F_EPS = [F_0_EP, F_125_EP, F_250_EP, F_500_EP, F_1MG_EP, F_2MG_EP, F_4MG_EP]
for y, n, c in zip(F_SER, F_NAMES, F_COL):
    series(6, F_T, y, n, c, width=4.5, mode="lines")
for y, ep in zip(F_SER, F_EPS):
    plus_err(6, F_ET, at(F_T, y, F_ET), ep, "#1A1A1A", thickness=1.2, cap=7)

# ---------- G ----------
G_COL = ["#2F5C9E", "#2F8FA6", "#ED7D31", "#8FAADC", "#E39A99", "#A9D18E", "#AA9BCB", "#8ECADB"]
G_SER = [G_0, G_62, G_125, G_250, G_500, G_1MG, G_2MG]
for y, n, c in zip(G_SER, G_NAMES[:7], G_COL[:7]):
    series(7, G_T, y, n, c, width=4.5, mode="lines")
series(7, G_4MG_T, G_4MG, G_NAMES[7], G_COL[7], width=4.5, mode="lines", shape="hv")
for y, ep in zip([G_0, G_62, G_500, G_1MG, G_2MG], [G_0_EP, G_62_EP, G_500_EP, G_1MG_EP, G_2MG_EP]):
    plus_err(7, G_ET, at(G_T, y, G_ET), ep, "#1A1A1A", thickness=1.2, cap=7)

# ---------- H and I ----------
H_COL = ["#5B9BD5", "#4BC3DA", "#F9A54A", "#1F4E79", "#A02B2B", "#77933C", "#604A7B", "#1D7C82"]
H_SER = [H_0, H_62, H_125, H_25, H_500, H_1MG, H_2MG, H_4MG]
H_EPS = [H_0_EP, H_62_EP, H_125_EP, H_25_EP, H_500_EP, H_1MG_EP, H_2MG_EP, H_4MG_EP]
for k in (8, 9):
    for y, ep, c in zip(H_SER, H_EPS, H_COL):
        plus_err(k, H_T, y, ep, c, thickness=2.2, cap=9)
    for y, n, c in zip(H_SER, H_NAMES, H_COL):
        series(k, H_T, y, n, c, width=2.5, symbol="diamond", msize=7)

# ======================= AXES =======================
XCFG = {
    1: dict(range=[0.5, 14.5], tickvals=A_T),
    2: dict(range=[-0.5, 19.5], tickvals=B_T, ticktext=B_XLABELS),
    3: dict(range=[0.5, 21.5], tickvals=C_T),
    4: dict(range=[-0.5, 19.5], tickvals=D_T),
    5: dict(range=[0.5, 21.5], tickvals=E_T),
    6: dict(range=[-0.15, 19.2], tickvals=F_XT),
    7: dict(range=[-0.03, 19.26], tickvals=G_XT),
    8: dict(range=[-0.5, 19.5], tickvals=H_T),
    9: dict(range=[-0.5, 19.5], tickvals=H_T),
}
YCFG = {
    1: dict(range=[-0.2, 2.0], tickvals=A_YT, ticktext=A_YLABELS),
    2: dict(range=[0, 0.9], tickvals=B_YT, tickformat=".2f"),
    3: dict(range=[0, 1.8], tickvals=C_YT, tickformat=".2f"),
    4: dict(range=[0, 1.4], tickvals=D_YT, tickformat=".2f"),
    5: dict(range=[0, 1.2], tickvals=E_YT, ticktext=E_YLABELS),
    6: dict(range=[0, 0.6], tickvals=F_YT, tickformat=".2f"),
    7: dict(range=[0, 1.2], tickvals=G_YT, tickformat=".2f"),
    8: dict(range=[0, 0.8], tickvals=H_YT, ticktext=H_YLABELS),
    9: dict(range=[0, 0.8], tickvals=H_YT, ticktext=H_YLABELS),
}

layout = {}
shapes = []
annotations = []
for k in range(1, 10):
    s = sfx(k)
    x0, y0, x1, y1 = BOX[k]
    xr = dict(domain=[x0 / W, x1 / W], anchor="y" + s, showgrid=False, zeroline=False, showline=False,
              ticks="", ticklen=0, ticklabelstandoff=8, fixedrange=True,
              tickfont=dict(family=SERIF, size=XFONT[k], color="black", weight="bold"))
    xr.update(XCFG[k])
    yr = dict(domain=[1 - y1 / H, 1 - y0 / H], anchor="x" + s, showgrid=False, zeroline=False, showline=False,
              ticks="", ticklen=0, ticklabelstandoff=12, fixedrange=True,
              tickfont=dict(family=SERIF, size=YFONT[k], color="black", weight="bold"))
    yr.update(YCFG[k])
    yr["range"] = [yr["range"][0] - 1e-6, yr["range"][1] + 1e-6]
    if k == 1:
        xr["anchor"] = "free"
        xr["position"] = 1 - (y0 + (y1 - y0) * 2.0 / 2.2) / H
        yr["zeroline"] = True
        yr["zerolinecolor"] = "#D0D0D0"
        yr["zerolinewidth"] = 1.5
    layout["xaxis" + s] = xr
    layout["yaxis" + s] = yr

    # frame
    fx1 = 1.0 if k != 6 else (2880 - x0) / (x1 - x0)
    if k == 5:
        shapes.append(dict(type="rect", xref="x5 domain", yref="y5 domain", x0=0, x1=1, y0=0, y1=1,
                           line=dict(color="#3A3A3A", width=1.6), layer="below"))
        shapes.append(dict(type="line", xref="x5 domain", yref="y5 domain", x0=0, x1=0, y0=0, y1=1,
                           line=dict(color="#4F81BD", width=2)))
        shapes.append(dict(type="line", xref="x5 domain", yref="y5 domain", x0=0, x1=1, y0=0, y1=0,
                           line=dict(color="#4F81BD", width=2)))
    else:
        fcol = {1: "#555555", 2: "#111111", 3: "#7A7A7A", 4: "#7A7A7A", 6: "#6A6A6A",
                7: "#333333", 8: "#555555", 9: "#333333"}[k]
        shapes.append(dict(type="rect", xref="x%s domain" % s, yref="y%s domain" % s, x0=0, x1=fx1, y0=0, y1=1,
                           line=dict(color=fcol, width=1.8 if k in (1, 2) else 1.5), layer="below"))
        if k == 4:
            shapes.append(dict(type="line", xref="x4 domain", yref="y4 domain", x0=0, x1=1, y0=0, y1=0,
                               line=dict(color="#8DB4E2", width=2)))

    # y title, Time label, panel letter
    tx, ty = YTITLE[k]
    annotations.append(dict(x=tx / W, y=1 - ty / H, xref="paper", yref="paper", showarrow=False,
                            text="OD at 600 nm" if k == 5 else "OD at 600 nM", textangle=-90,
                            font=dict(family=SERIF, size=21, color="black", weight="bold"),
                            xanchor="center", yanchor="middle"))
    mx, my = TIME[k]
    annotations.append(dict(x=mx / W, y=1 - my / H, xref="paper", yref="paper", showarrow=False, text="Time",
                            font=dict(family=SERIF, size=21, color="black", weight="bold"),
                            xanchor="center", yanchor="middle"))
    lx, ly, lt = LETTER[k]
    annotations.append(dict(x=lx / W, y=1 - ly / H, xref="paper", yref="paper", showarrow=False, text=lt,
                            font=dict(family=SANS, size=48, color="black", weight="bold"),
                            xanchor="left", yanchor="middle"))

    gx, gy = LEG[k]
    if k == 3:
        lxp, lxa = gx / W, "right"
    else:
        lxp, lxa = (gx - 22) / W, "left"
    leg = dict(orientation="h", x=lxp, y=1 - gy / H, xanchor=lxa, yanchor="middle",
               font=dict(family=SERIF, size=LEGFONT[k], color="black", weight="bold"),
               bgcolor="rgba(0,0,0,0)", borderwidth=0, itemwidth=30, tracegroupgap=0, traceorder="normal")
    if k in LEGENTRY:
        leg["entrywidth"] = LEGENTRY[k]
        leg["entrywidthmode"] = "pixels"
    layout["legend" + s] = leg

# significance stars
STARS = [(1, 7.72, 0.19, "#222222"), (1, 12.12, 0.232, "#222222"),
         (3, 16.82, 0.582, "#F79646"), (3, 20.5, 0.496, "#3F6FB6"),
         (5, 10.8, 0.509, "#9B30C0"), (5, 17.42, 0.367, "#3FB8C8")]
for k, sx, sy, sc in STARS:
    s = sfx(k)
    annotations.append(dict(x=sx, y=sy, xref="x" + s, yref="y" + s, showarrow=False, text="***",
                            font=dict(family=SERIF, size=15, color=sc, weight="bold"),
                            xanchor="center", yanchor="middle"))

fig.update_layout(**layout)
fig.update_layout(width=W, height=H, margin=dict(l=0, r=0, t=0, b=0, autoexpand=False),
                  paper_bgcolor="white", plot_bgcolor="white", shapes=shapes, annotations=annotations,
                  showlegend=True, hovermode=False)
fig.write_html("out.html")
